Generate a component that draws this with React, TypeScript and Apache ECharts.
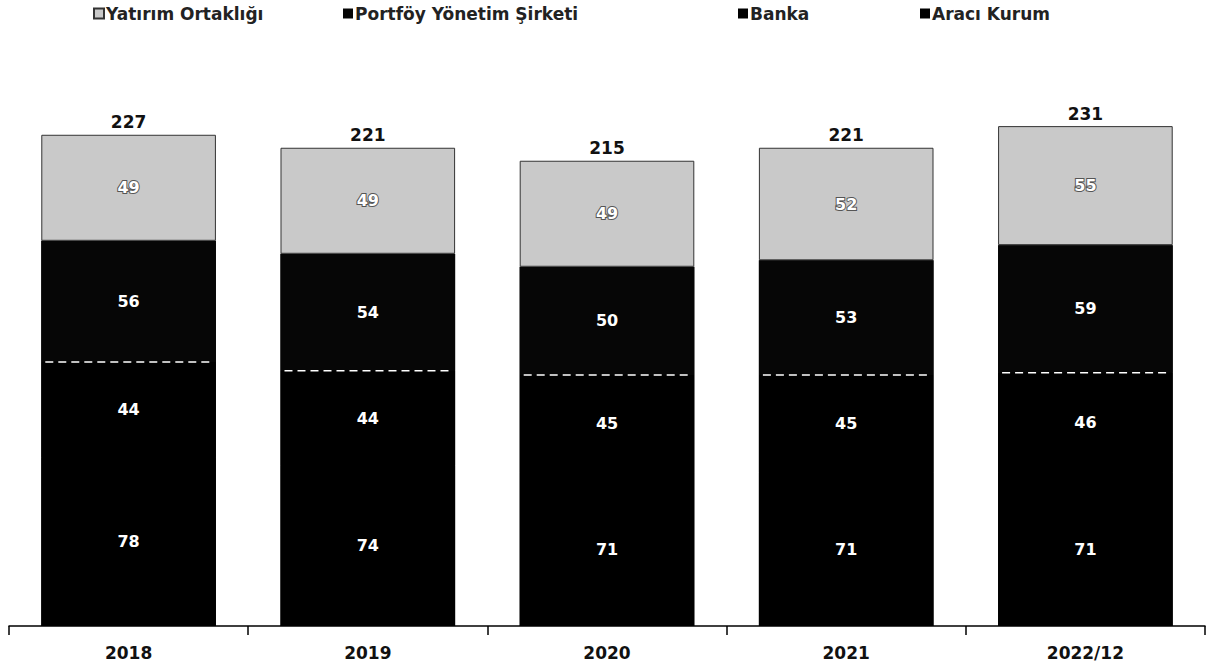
import React, { useEffect, useRef } from "react";
import * as echarts from "echarts";

const categories = ["2018", "2019", "2020", "2021", "2022/12"];
const araciKurum = [78, 74, 71, 71, 71];
const banka = [44, 44, 45, 45, 46];
const portfoy = [56, 54, 50, 53, 59];
const yatirim = [49, 49, 49, 52, 55];
const totals = [227, 221, 215, 221, 231];

const FONT = "DejaVu Sans";
const BAR_FRAC = 0.73;

export default function App() {
  const ref = useRef<HTMLDivElement>(null);
  useEffect(() => {
    if (!ref.current) return;
    const chart = echarts.init(ref.current, null, { renderer: "svg" });
    const innerLabel = {
      show: true,
      position: "inside" as const,
      color: "#ffffff",
      fontFamily: FONT,
      fontWeight: "bold" as const,
      fontSize: 16,
    };
    const legendText = { fontFamily: FONT, fontWeight: "bold" as const, fontSize: 17, color: "#222" };
    const mkLegend = (name: string, left: number) => ({
      data: [name],
      left,
      top: 0,
      icon: "rect",
      itemWidth: 10,
      itemHeight: 10,
      itemGap: 2,
      textStyle: { ...legendText, padding: [0, 0, 0, -3] },
      selectedMode: false,
    });
    const lineData = categories.map((_, i) => [i, araciKurum[i] + banka[i]]);
    const darkData = categories.map((_, i) => [i, araciKurum[i] + banka[i] + portfoy[i]]);
    const totalData = categories.map((_, i) => [i, totals[i]]);
    chart.setOption({
      animation: false,
      backgroundColor: "#ffffff",
      legend: [
        mkLegend("Yatırım Ortaklığı", 88),
        mkLegend("Portföy Yönetim Şirketi", 338),
        mkLegend("Banka", 733),
        mkLegend("Aracı Kurum", 915),
      ],
      grid: { left: 9, right: 16, top: 85, bottom: 42 },
      xAxis: {
        type: "category",
        data: categories,
        axisLine: { lineStyle: { color: "#000", width: 1.5 } },
        axisTick: { show: true, length: 9, lineStyle: { color: "#000", width: 1.5 } },
        axisLabel: {
          margin: 18,
          color: "#111",
          fontFamily: FONT,
          fontWeight: "bold",
          fontSize: 17,
        },
      },
      yAxis: {
        type: "value",
        min: 0,
        max: 250,
        show: false,
        splitLine: { show: false },
      },
      series: [
        {
          name: "backing",
          type: "custom",
          encode: { x: 0, y: 1 },
          data: darkData,
          silent: true,
          z: 1,
          renderItem: (params: any, api: any) => {
            const top = api.coord([api.value(0), api.value(1)]);
            const bottom = api.coord([api.value(0), 0]);
            const w = api.size([1, 0])[0] * BAR_FRAC;
            return {
              type: "rect",
              shape: { x: top[0] - w / 2, y: top[1], width: w, height: bottom[1] - top[1] },
              style: { fill: "#000000" },
            };
          },
        },
        {
          name: "Aracı Kurum",
          type: "bar",
          stack: "t",
          barWidth: "73%",
          data: araciKurum,
          itemStyle: { color: "#000000" },
          label: innerLabel,
        },
        {
          name: "Banka",
          type: "bar",
          stack: "t",
          data: banka,
          itemStyle: { color: "#000000" },
          label: innerLabel,
        },
        {
          name: "Portföy Yönetim Şirketi",
          type: "bar",
          stack: "t",
          data: portfoy,
          itemStyle: { color: "#060606" },
          label: innerLabel,
        },
        {
          name: "Yatırım Ortaklığı",
          type: "bar",
          stack: "t",
          data: yatirim,
          itemStyle: { color: "#c9c9c9", borderColor: "#333", borderWidth: 1 },
          label: { ...innerLabel, textBorderColor: "#555", textBorderWidth: 2 },
        },
        {
          name: "divider",
          type: "custom",
          encode: { x: 0, y: 1 },
          data: lineData,
          silent: true,
          z: 5,
          renderItem: (params: any, api: any) => {
            const pt = api.coord([api.value(0), api.value(1)]);
            const w = api.size([1, 0])[0] * BAR_FRAC;
            return {
              type: "line",
              shape: { x1: pt[0] - w / 2 + 4, y1: pt[1], x2: pt[0] + w / 2 - 4, y2: pt[1] },
              style: { stroke: "#ffffff", lineWidth: 1.5, lineDash: [8, 5] },
            };
          },
        },
        {
          name: "total",
          type: "custom",
          encode: { x: 0, y: 1 },
          data: totalData,
          silent: true,
          z: 5,
          renderItem: (params: any, api: any) => {
            const pt = api.coord([api.value(0), api.value(1)]);
            return {
              type: "text",
              x: pt[0],
              y: pt[1] - 4,
              style: {
                text: String(api.value(1)),
                textAlign: "center",
                textVerticalAlign: "bottom",
                font: `bold 17px "${FONT}"`,
                fill: "#111",
              },
            };
          },
        },
      ],
    });
    return () => chart.dispose();
  }, []);
  return (
    <div
      ref={ref}
      style={{ position: "absolute", left: 0, top: 0, width: 1221, height: 668 }}
    />
  );
}
